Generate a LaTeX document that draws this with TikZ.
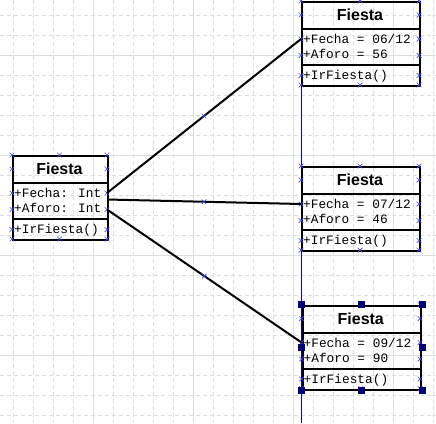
\documentclass[tikz,border=0pt]{standalone}
\usepackage{fontspec}
\setmainfont{Liberation Sans}
\newfontfamily\monof{Liberation Mono}
\usetikzlibrary{shapes.misc}
\definecolor{gridc}{HTML}{D8E0E0}
\definecolor{selc}{HTML}{0000B8}
\definecolor{crossc}{HTML}{4848E0}
\definecolor{handlec}{HTML}{000070}
\tikzset{
 umlbox/.style={draw=black, line width=2pt, inner sep=0pt, anchor=north west, minimum height=84pt},
 titletext/.style={font=\fontsize{16}{18}\selectfont\bfseries, inner sep=0pt},
 rowtext/.style={font=\monof\fontsize{12.8}{14}\selectfont, inner sep=0pt, anchor=base west},
 xmark/.style={cross out, draw=crossc, line width=0.7pt, minimum size=4pt, inner sep=0pt},
 handle/.style={fill=handlec, minimum size=7pt, inner sep=0pt},
 conn/.style={line width=2pt, black},
 minorgrid/.style={gridc, line width=0.8pt, dash pattern=on 4pt off 3pt},
 majorgrid/.style={gridc, line width=1pt},
 sepline/.style={line width=2pt, black},
}
% name, L, T, W, line1, line2
\newcommand\fiestabox[6]{%
 \node[umlbox, minimum width=#4pt] (#1) at (#2,#3) {};
 \draw[sepline] ({#2},{#3+28}) -- ({#2+#4},{#3+28});
 \draw[sepline] ({#2},{#3+64}) -- ({#2+#4},{#3+64});
 \node[titletext] (#1-t) at ({#2+#4/2},{#3+14.2}) {Fiesta};
 \node[rowtext] (#1-r1) at ({#2+2},{#3+42.5}) {#5};
 \node[rowtext] (#1-r2) at ({#2+2},{#3+57.5}) {#6};
 \node[rowtext] (#1-r3) at ({#2+2},{#3+78.5}) {+IrFiesta()};
 \foreach \yy in {0,14,38,54.5,74.5,84}{%
   \node[xmark] at ({#2},{#3+\yy}) {};
   \node[xmark] at ({#2+#4},{#3+\yy}) {};
 }
 \node[xmark] at ({#2+#4/2},{#3}) {};
 \node[xmark] at ({#2+#4/2},{#3+84}) {};
 \coordinate (#1-lf) at ({#2},{#3+38});
 \coordinate (#1-rf) at ({#2+#4},{#3+38});
 \coordinate (#1-rm) at ({#2+#4},{#3+44.5});
 \coordinate (#1-ra) at ({#2+#4},{#3+54.5});
}
\begin{document}
\begin{tikzpicture}[x=1pt,y=-1pt]
\fill[white] (0,0) rectangle (436,423);
\useasboundingbox (0,0) rectangle (436,423);
% grid
\foreach \i in {0,...,21}{\draw[minorgrid] ({13.33+20*\i},0) -- ({13.33+20*\i},423);}
\foreach \i in {0,...,20}{\draw[minorgrid] (0,{15+20*\i}) -- (436,{15+20*\i});}
\foreach \i in {0,...,3}{\draw[majorgrid] ({93.33+100*\i},0) -- ({93.33+100*\i},423);}
\foreach \i in {0,...,3}{\draw[majorgrid] (0,{55+100*\i}) -- (436,{55+100*\i});}
% guide line
\coordinate (gtop) at (301,0);
\coordinate (gbot) at (301,423);
\draw[selc, line width=1pt] (gtop) -- (gbot);
% boxes
\fiestabox{b0}{12}{155}{95}{+Fecha: Int}{+Aforo: Int}
\fiestabox{b1}{301}{1}{118}{+Fecha = 06/12}{+Aforo = 56}
\fiestabox{b2}{301}{166}{118}{+Fecha = 07/12}{+Aforo = 46}
\fiestabox{b3}{301.5}{304.5}{118.5}{+Fecha = 09/12}{+Aforo = 90}
% connectors
\draw[conn] (b0-rf) -- node[xmark, pos=0.5] {} (b1-lf);
\draw[conn] (b0-rm) -- node[xmark, pos=0.5] {} (b2-lf);
\draw[conn] (b0-ra) -- node[xmark, pos=0.5] {} (b3-lf);
% selection handles on b3
\foreach \a in {north west,north,north east,west,east,south west,south,south east}{
  \node[handle] at (b3.\a) {};
}
\end{tikzpicture}
\end{document}
